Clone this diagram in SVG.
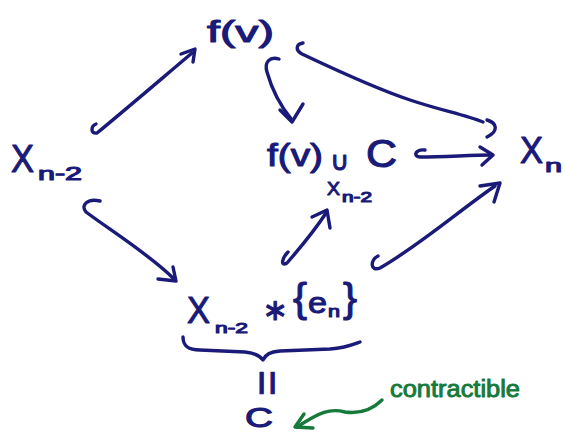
<svg xmlns="http://www.w3.org/2000/svg" width="565" height="434" viewBox="0 0 565 434">
<style>
.t{font-family:"Liberation Sans","DejaVu Sans",sans-serif;fill:#1a1a78;stroke:#1a1a78;stroke-width:1.1;stroke-linejoin:round;}
.g{font-family:"Liberation Sans","DejaVu Sans",sans-serif;fill:#157a3a;stroke:#157a3a;stroke-width:0.9;stroke-linejoin:round;}
.c{fill:none;stroke:#1a1a78;stroke-width:3.4;stroke-linecap:round;stroke-linejoin:round;}
.cg{fill:none;stroke:#157a3a;stroke-width:3.4;stroke-linecap:round;stroke-linejoin:round;}
</style>
<rect width="565" height="434" fill="#ffffff"/>
<g id="fv">
<text class="t" x="207" y="42" font-size="30" textLength="67" lengthAdjust="spacingAndGlyphs">f(v)</text>
</g>
<g id="xn2-left">
<text class="t" x="11" y="172" font-size="38" textLength="23" lengthAdjust="spacingAndGlyphs">X</text>
<text class="t" x="38" y="180" font-size="18" textLength="44" lengthAdjust="spacingAndGlyphs">n-2</text>
</g>
<g id="pushout">
<text class="t" x="267" y="166" font-size="32" textLength="56" lengthAdjust="spacingAndGlyphs">f(v)</text>
<text class="t" x="340" y="170" font-size="26" text-anchor="middle">∪</text>
<text class="t" x="366" y="167" font-size="38" textLength="31" lengthAdjust="spacingAndGlyphs">C</text>
<text class="t" x="327" y="195" font-size="18" textLength="13" lengthAdjust="spacingAndGlyphs">X</text>
<text class="t" x="342" y="202" font-size="14" textLength="30" lengthAdjust="spacingAndGlyphs">n-2</text>
</g>
<g id="xn">
<text class="t" x="520" y="163" font-size="36" textLength="23" lengthAdjust="spacingAndGlyphs">X</text>
<text class="t" x="545" y="172" font-size="18" textLength="17" lengthAdjust="spacingAndGlyphs">n</text>
</g>
<g id="join">
<text class="t" x="187" y="323" font-size="36" textLength="23" lengthAdjust="spacingAndGlyphs">X</text>
<text class="t" x="215" y="333" font-size="15" textLength="33" lengthAdjust="spacingAndGlyphs">n-2</text>
<text class="t" x="275" y="320" font-size="30" text-anchor="middle">∗</text>
<text class="t" x="293" y="312" font-size="40" textLength="14" lengthAdjust="spacingAndGlyphs">{</text>
<text class="t" x="308" y="313" font-size="30" textLength="19" lengthAdjust="spacingAndGlyphs">e</text>
<text class="t" x="328" y="317" font-size="16" textLength="12" lengthAdjust="spacingAndGlyphs">n</text>
<text class="t" x="343" y="312" font-size="40" textLength="14" lengthAdjust="spacingAndGlyphs">}</text>
<path class="c" d="M 183 337 C 183 346 188 350 200 350 L 245 352 C 255 353 260 356 263 360 C 266 354 270 352 280 351 L 330 349 C 345 348 352 345 360 342"/>
<text class="t" transform="translate(266,383) rotate(90)" x="0" y="14" font-size="44" text-anchor="middle">=</text>
</g>
<g id="c-bottom">
<text class="t" x="245" y="427" font-size="27" textLength="28" lengthAdjust="spacingAndGlyphs">C</text>
</g>
<g id="note">
<text class="g" x="390" y="397" font-size="23" textLength="130" lengthAdjust="spacingAndGlyphs">contractible</text>
<path class="cg" d="M 382 400 C 372 410 360 414 345 412 C 330 408 320 412 297 427"/>
<path class="cg" d="M 304 414 L 295 427 L 313 428"/>
</g>
<g id="connectors">
<path class="c" d="M 96 124 C 91 126 90 134 97 133 C 125 110 160 80 192 53"/>
<path class="c" d="M 181 54 L 195 49 L 193 62"/>
<path class="c" d="M 279 59 C 270 56 264 62 267 72 C 272 90 282 108 292 120"/>
<path class="c" d="M 280 110 L 292 122 L 303 104"/>
<path class="c" d="M 303 43 C 296 44 295 50 302 54 C 340 72 380 90 410 100 C 440 110 465 115 483 122"/>
<path class="c" d="M 487 120 C 497 123 499 131 487 137"/>
<path class="c" d="M 425 150 C 416 149 412 156 420 157 C 445 157 470 155 491 155"/>
<path class="c" d="M 480 147 L 493 155 L 482 165"/>
<path class="c" d="M 100 201 C 88 198 80 205 86 212 C 110 230 150 255 173 278"/>
<path class="c" d="M 158 279 L 176 281 L 173 267"/>
<path class="c" d="M 378 256 C 370 260 370 272 380 268 C 420 245 460 210 495 186"/>
<path class="c" d="M 480 186 L 500 183 L 494 202"/>
<path class="c" d="M 288 252 C 282 258 280 267 287 263 C 300 248 315 230 326 213"/>
<path class="c" d="M 312 217 L 327 210 L 330 228"/>
</g>
</svg>
